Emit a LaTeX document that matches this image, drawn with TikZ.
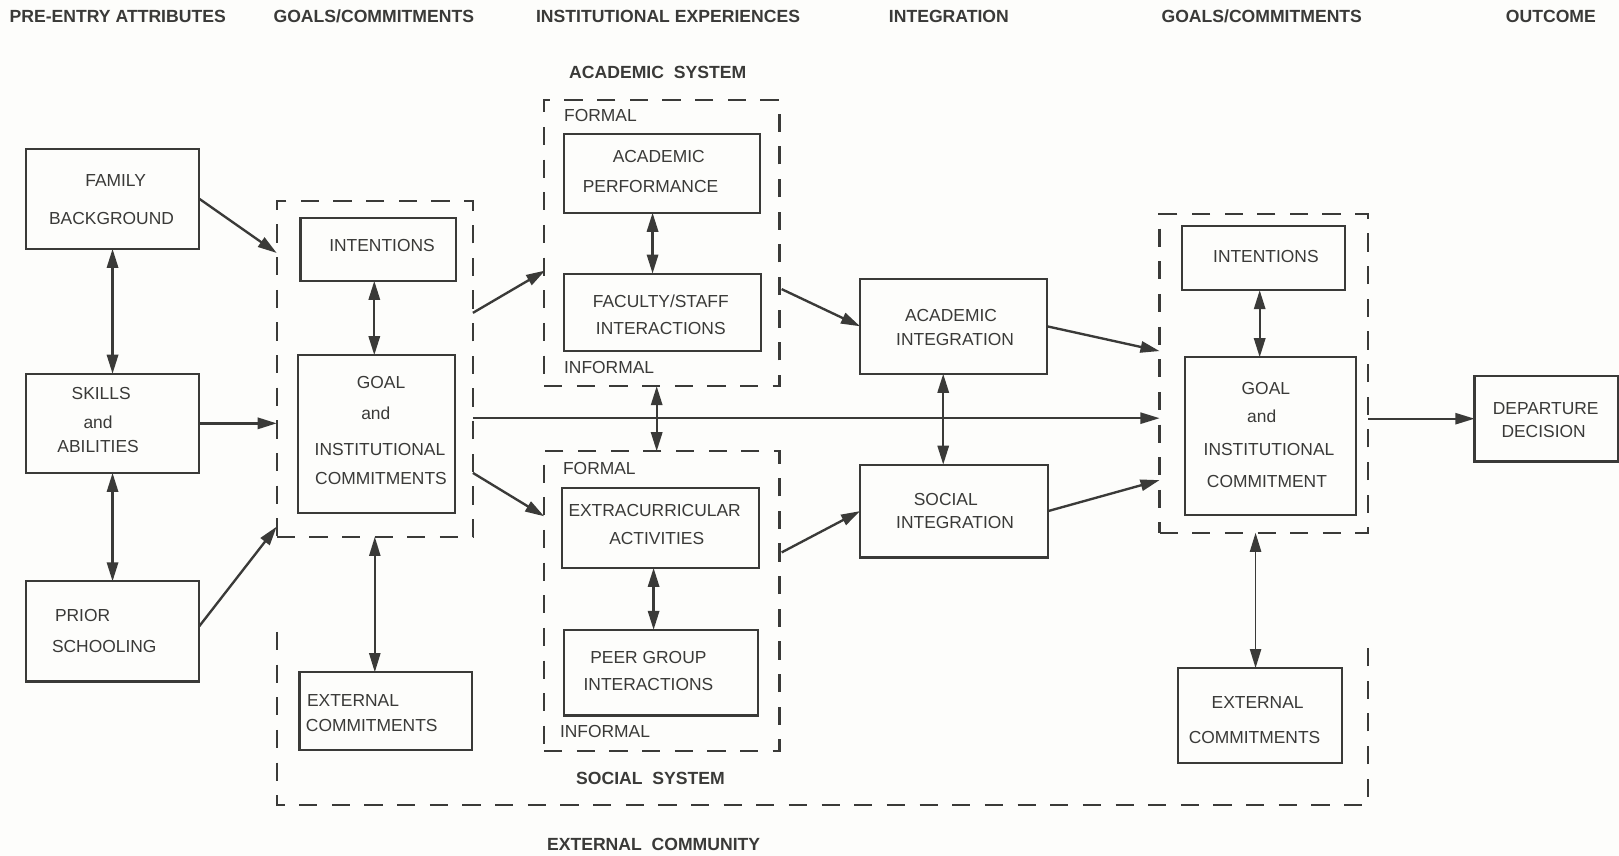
\documentclass[tikz,border=0pt]{standalone}
\usepackage{fontspec}
\setmainfont{Liberation Sans}
\usetikzlibrary{arrows.meta,calc}
\definecolor{ink}{HTML}{3A3A38}
\definecolor{paper}{HTML}{FDFDFB}
\newcommand\pbox[6][box]{\node[#1, minimum width={(#5-#3)*0.02cm}, minimum height={(#6-#4)*0.02cm}] (#2) at ({(#3+#5)/2},{(#4+#6)/2}) {};}
\newcommand\tl[4]{\node[txt] (#1) at (#2,#3) {#4};}
\begin{document}
\begin{tikzpicture}[x=0.02cm,y=-0.02cm,
  box/.style={draw=ink, line width=1.2pt, inner sep=0pt, outer sep=0pt},
  dbox/.style={draw=ink, line width=1.2pt, dash pattern=on 10pt off 8pt, inner sep=0pt, outer sep=0pt},
  txt/.style={text=ink, font=\fontsize{9.6}{11}\selectfont, inner sep=0pt},
  hdr/.style={text=ink, font=\fontsize{9.7}{11}\selectfont\bfseries, inner sep=0pt},
  tip/.tip={Triangle[length=10.5pt,width=6.2pt]},
  arr/.style={draw=ink, line width=1.3pt, -tip},
  darr/.style={draw=ink, line width=1.3pt, tip-tip},
  thin/.style={line width=0.9pt}]
\fill[paper] (0,0) rectangle (1568,829);
\useasboundingbox (0,0) rectangle (1568,829);

% headers
\node[hdr] (h1) at (114,16) {PRE-ENTRY ATTRIBUTES};
\node[hdr] (h2) at (362,16) {GOALS/COMMITMENTS};
\node[hdr] (h3) at (647,16) {INSTITUTIONAL EXPERIENCES};
\node[hdr] (h4) at (919,16) {INTEGRATION};
\node[hdr] (h5) at (1222,16) {GOALS/COMMITMENTS};
\node[hdr] (h6) at (1502,16) {OUTCOME};
\node[hdr] (hacs) at (637,70) {ACADEMIC\ \ SYSTEM};
\node[hdr] (hsos) at (630,754) {SOCIAL\ \ SYSTEM};
\node[hdr] (hext) at (633,818) {EXTERNAL\ \ COMMUNITY};

% pre-entry boxes
\pbox{fam}{25}{144}{193}{241}
\tl{famA}{112}{175}{FAMILY}
\tl{famB}{108}{212}{BACKGROUND}
\pbox{skills}{25}{362}{193}{458}
\tl{skA}{98}{381}{SKILLS}
\tl{skB}{95}{409}{and}
\tl{skC}{95}{432}{ABILITIES}
\pbox{prior}{25}{563}{193}{660}
\tl{prA}{80}{596}{PRIOR}
\tl{prB}{101}{626}{SCHOOLING}

% left goals/commitments
\pbox[dbox]{gdash}{268}{195}{458}{520}
\pbox{int1}{291}{211}{442}{272}
\tl{int1A}{370}{238}{INTENTIONS}
\pbox{goal1}{289}{344}{441}{497}
\tl{g1A}{369}{370}{GOAL}
\tl{g1B}{364}{400}{and}
\tl{g1C}{368}{435}{INSTITUTIONAL}
\tl{g1D}{369}{463}{COMMITMENTS}
\pbox{ext1}{290}{651}{457}{726}
\node[txt, anchor=west] (e1A) at (297,678) {EXTERNAL};
\node[txt, anchor=west] (e1B) at (296,703) {COMMITMENTS};

% academic system
\pbox[dbox]{adash}{527}{97}{755}{374}
\node[txt, anchor=west] (af) at (546,112) {FORMAL};
\node[txt, anchor=west] (ai) at (546,356) {INFORMAL};
\pbox{acperf}{546}{130}{736}{206}
\tl{apA}{638}{152}{ACADEMIC}
\tl{apB}{630}{181}{PERFORMANCE}
\pbox{fac}{546}{265}{737}{340}
\tl{faA}{640}{292}{FACULTY/STAFF}
\tl{faB}{640}{318}{INTERACTIONS}

% social system
\pbox[dbox]{sdash}{527}{437}{755}{727}
\node[txt, anchor=west] (sf) at (545,454) {FORMAL};
\node[txt, anchor=west] (si) at (542,708) {INFORMAL};
\pbox{extra}{544}{473}{735}{550}
\tl{exA}{634}{494}{EXTRACURRICULAR}
\tl{exB}{636}{522}{ACTIVITIES}
\pbox{peer}{546}{610}{734}{693}
\tl{peA}{628}{637}{PEER GROUP}
\tl{peB}{628}{663}{INTERACTIONS}

% integration
\pbox{acint}{833}{270}{1014}{362}
\tl{aiA}{921}{306}{ACADEMIC}
\tl{aiB}{925}{329}{INTEGRATION}
\pbox{socint}{833}{450}{1015}{540}
\tl{siA}{916}{484}{SOCIAL}
\tl{siB}{925}{506}{INTEGRATION}

% right goals/commitments
\pbox[dbox]{rdash}{1123}{207}{1325}{516}
\pbox{int2}{1145}{219}{1303}{281}
\tl{int2A}{1226}{248}{INTENTIONS}
\pbox{goal2}{1148}{346}{1313}{499}
\tl{g2A}{1226}{376}{GOAL}
\tl{g2B}{1222}{403}{and}
\tl{g2C}{1229}{435}{INSTITUTIONAL}
\tl{g2D}{1227}{466}{COMMITMENT}
\pbox{ext2}{1141}{647}{1300}{739}
\tl{e2A}{1218}{680}{EXTERNAL}
\tl{e2B}{1215}{714}{COMMITMENTS}

% outcome
\pbox{dep}{1428}{364}{1567}{447}
\tl{dA}{1497}{396}{DEPARTURE}
\tl{dB}{1495}{418}{DECISION}

% external community frame
\draw[draw=ink, line width=1.2pt, dash pattern=on 10pt off 8pt] (268,612) -- (268,780) -- (1325,780) -- (1325,628);

% connector end points on dashed frames
\coordinate (gin1) at (268,245);
\coordinate (gin2) at (268,410);
\coordinate (gin3) at (268,510);
\coordinate (gout1) at (458,303);
\coordinate (gout2) at (458,458);
\coordinate (gout3) at (363,520);
\coordinate (gout4) at (458,405);
\coordinate (ain1) at (528,262);
\coordinate (aout1) at (636,374);
\coordinate (aout2) at (757,280);
\coordinate (sin1) at (527,500);
\coordinate (sout1) at (757,535);
\coordinate (rin1) at (1123,340);
\coordinate (rin2) at (1123,405);
\coordinate (rin3) at (1123,465);
\coordinate (rout1) at (1216,516);
\coordinate (rout2) at (1325,405.5);

% connectors
\draw[arr] (fam.east) -- (gin1);
\draw[arr] (skills.east) -- (gin2);
\draw[arr] ([yshift=0.1cm]prior.east) -- (gin3);
\draw[darr] (fam.south) -- (skills.north);
\draw[darr] (skills.south) -- (prior.north);
\draw[darr] ([xshift=-0.08cm]int1.south) -- ([xshift=-0.08cm]int1.south |- goal1.north);
\draw[darr, thin] (gout3) -- (gout3 |- ext1.north);
\draw[arr] (gout1) -- (ain1);
\draw[arr] (gout2) -- (sin1);
\draw[darr] ([xshift=-0.18cm]acperf.south) -- ([xshift=-0.18cm]acperf.south |- fac.north);
\draw[darr] (aout1) -- (aout1 |- sdash.north);
\draw[darr] ([xshift=-0.13cm]extra.south) -- ([xshift=-0.13cm]extra.south |- peer.north);
\draw[arr] (aout2) -- (acint.west);
\draw[arr] (sout1) -- (socint.west);
\draw[arr, thin] (gout4) -- (rin2);
\draw[darr] ([xshift=-0.2cm]acint.south) -- ([xshift=-0.2cm]acint.south |- socint.north);
\draw[arr] (acint.east) -- (rin1);
\draw[arr] (socint.east) -- (rin3);
\draw[darr] ([xshift=-0.08cm]int2.south) -- ([xshift=-0.08cm]int2.south |- goal2.north);
\draw[darr, thin] (rout1) -- (rout1 |- ext2.north);
\draw[arr, thin] (rout2) -- (dep.west);
\end{tikzpicture}
\end{document}
